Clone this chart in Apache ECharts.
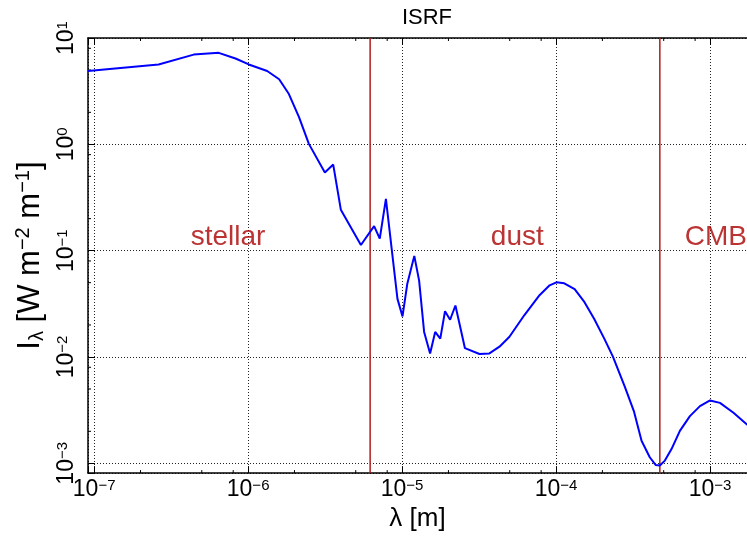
<!DOCTYPE html>
<html>
<head>
<meta charset="utf-8">
<script src="https://cdn.jsdelivr.net/npm/echarts@6/dist/echarts.min.js"></script>
<style>
html,body{margin:0;padding:0;background:#fff;}
#chart{width:747px;height:537px;}
</style>
</head>
<body>
<div id="chart"></div>
<script>
// ---- data ----
const wavelength = [9.12e-8, 2.62e-7, 4.43e-7, 6.44e-7, 8.28e-7, 1.01e-6, 1.33e-6, 1.59e-6, 1.84e-6, 2.14e-6, 2.48e-6,
  3.15e-6, 3.57e-6, 4.0e-6, 5.4e-6, 6.58e-6, 7.16e-6, 7.85e-6, 9.33e-6, 1.006e-5, 1.08e-5, 1.2e-5, 1.29e-5,
  1.39e-5, 1.52e-5, 1.64e-5, 1.77e-5, 1.9e-5, 2.05e-5, 2.22e-5, 2.56e-5, 3.18e-5, 3.69e-5, 4.29e-5, 4.98e-5,
  6.23e-5, 7.81e-5, 9.08e-5, 1.005e-4, 1.13e-4, 1.32e-4, 1.53e-4, 1.77e-4, 2.06e-4, 2.34e-4, 2.79e-4, 3.2e-4,
  3.59e-4, 4.06e-4, 4.43e-4, 4.72e-4, 5.09e-4, 5.62e-4, 6.37e-4, 7.4e-4, 8.6e-4, 1.0e-3, 1.16e-3, 1.42e-3, 1.73e-3, 2.0e-3];
const intensity = [4.89, 5.64, 6.98, 7.25, 6.41, 5.64, 4.89, 4.09, 2.97, 1.80, 1.01,
  0.544, 0.645, 0.243, 0.113, 0.170, 0.130, 0.307, 0.0352, 0.0241, 0.0485, 0.0893, 0.0522,
  0.0172, 0.0108, 0.0172, 0.0149, 0.0269, 0.0224, 0.0305, 0.0121, 0.01067, 0.0108, 0.0125, 0.0155,
  0.0248, 0.0381, 0.0472, 0.0504, 0.0493, 0.0434, 0.0328, 0.0228, 0.0148, 0.01007, 0.0053, 0.0031,
  0.00163, 0.00114, 0.000966, 0.000952, 0.00106, 0.00136, 0.00202, 0.00278, 0.00345, 0.0039, 0.0037, 0.00299, 0.00233, 0.00195];
const boundaries = [6.2e-6, 4.72e-4];
const regionNames = ['stellar', 'dust', 'CMB'];
const regionX = [7.4e-7, 5.6e-5, 1.09e-3];
const regionY = [0.135, 0.135, 0.135];
const xMinorTicks = [2e-7, 5e-7, 8e-7, 2e-6, 5e-6, 8e-6, 2e-5, 5e-5, 8e-5, 2e-4, 5e-4, 8e-4];
const yMinorTicks = [2e-3, 5e-3, 8e-3, 2e-2, 5e-2, 8e-2, 2e-1, 5e-1, 8e-1, 2, 5, 8];
const xRange = [9.12e-8, 1.738e-3];
const yRange = [8.09e-4, 10];
const titleText = 'ISRF';

// ---- chart ----
const FONT = '"Liberation Sans", Arial, Helvetica, sans-serif';
function powLabel(v) {
  const l = Math.log10(v);
  const e = Math.round(l);
  if (Math.abs(l - e) > 1e-6) return '';
  return '{b|10}{s|' + (e < 0 ? '\u2212' + (-e) : String(e)) + '}';
}
const richTick = {
  b: {fontSize: 23, fontFamily: FONT, color: '#000', verticalAlign: 'bottom'},
  s: {fontSize: 15, fontFamily: FONT, color: '#000', verticalAlign: 'top'}
};
const chart = echarts.init(document.getElementById('chart'), null, {renderer: 'canvas'});
const lineData = wavelength.map((x, i) => [x, intensity[i]]);
function minorTickSeries(values, axis) {
  return {
    type: 'custom',
    silent: true,
    clip: false,
    z: 5,
    data: values.map(v => axis === 'x' ? [v, yRange[0]] : [xRange[0], v]),
    renderItem: function (params, api) {
      const cs = params.coordSys;
      const p = api.coord([api.value(0), api.value(1)]);
      const st = {stroke: '#000', lineWidth: 1};
      if (axis === 'x') {
        return {type: 'group', children: [
          {type: 'line', shape: {x1: p[0], y1: cs.y + cs.height, x2: p[0], y2: cs.y + cs.height - 3}, style: st},
          {type: 'line', shape: {x1: p[0], y1: cs.y, x2: p[0], y2: cs.y + 3}, style: st}
        ]};
      }
      return {type: 'line', shape: {x1: cs.x, y1: p[1], x2: cs.x + 3, y2: p[1]}, style: st};
    }
  };
}
const boundarySeries = boundaries.map(b => ({
  type: 'line', silent: true, symbol: 'none', z: 9,
  data: [[b, yRange[0]], [b, yRange[1]]],
  lineStyle: {color: '#b01c1c', width: 1.5}
}));
const option = {
  animation: false,
  backgroundColor: '#fff',
  textStyle: {fontFamily: FONT},
  title: {
    text: titleText, left: 422, top: 2, textAlign: 'center',
    textStyle: {fontSize: 22, fontWeight: 'normal', color: '#000', fontFamily: FONT}
  },
  grid: {left: 88, right: 0, top: 38, bottom: 59, containLabel: false},
  xAxis: [{
    type: 'log', logBase: 10, min: xRange[0], max: xRange[1], position: 'bottom',
    name: '{n|\u03bb [m]}', nameLocation: 'middle', nameGap: 25,
    nameTextStyle: {rich: {n: {fontSize: 26, fontFamily: FONT, color: '#000'}}},
    axisLine: {show: true, lineStyle: {color: '#000', width: 1.5}},
    axisTick: {show: true, inside: true, length: 7, lineStyle: {color: '#000', width: 1}},
    axisLabel: {formatter: powLabel, rich: richTick, margin: 5, showMinLabel: true, showMaxLabel: false},
    splitLine: {show: true, lineStyle: {color: '#222', width: 1, type: [1, 2]}},
    minorTick: {show: false}
  }, {
    type: 'log', logBase: 10, min: xRange[0], max: xRange[1], position: 'top',
    axisLine: {show: true, lineStyle: {color: '#000', width: 1.5}},
    axisTick: {show: true, inside: true, length: 7, lineStyle: {color: '#000', width: 1}},
    axisLabel: {show: false}, splitLine: {show: false}
  }],
  yAxis: [{
    type: 'log', logBase: 10, min: yRange[0], max: yRange[1], position: 'left',
    name: '{b|I}{sub|\u03bb}{b| [W m}{sup|\u22122}{b| m}{sup|\u22121}{b|]}',
    nameLocation: 'middle', nameGap: 36,
    nameTextStyle: {rich: {
      b: {fontSize: 31, fontFamily: FONT, color: '#000', verticalAlign: 'middle'},
      sub: {fontSize: 20, fontFamily: FONT, color: '#000', verticalAlign: 'bottom', padding: [14, 0, 0, 0]},
      sup: {fontSize: 20, fontFamily: FONT, color: '#000', verticalAlign: 'top', padding: [0, 0, 12, 0]}
    }},
    axisLine: {show: true, lineStyle: {color: '#000', width: 1.5}},
    axisTick: {show: true, inside: true, length: 7, lineStyle: {color: '#000', width: 1}},
    axisLabel: {formatter: powLabel, rich: richTick, rotate: 90, margin: 10, showMinLabel: true, showMaxLabel: true},
    splitLine: {show: true, lineStyle: {color: '#222', width: 1, type: [1, 2]}}
  }],
  series: [
    {
      type: 'line', data: lineData, showSymbol: false, symbol: 'none', z: 10,
      lineStyle: {color: '#0000ff', width: 2}
    },
    ...boundarySeries,
    {
      type: 'scatter', symbolSize: 0, silent: true, z: 11,
      data: regionNames.map((n, i) => ({name: n, value: [regionX[i], regionY[i]]})),
      label: {show: true, position: 'inside', formatter: '{b}', color: '#aa0000', fontSize: 28, fontFamily: FONT}
    },
    minorTickSeries(xMinorTicks, 'x'),
    minorTickSeries(yMinorTicks, 'y')
  ]
};
chart.setOption(option);
</script>
</body>
</html>
